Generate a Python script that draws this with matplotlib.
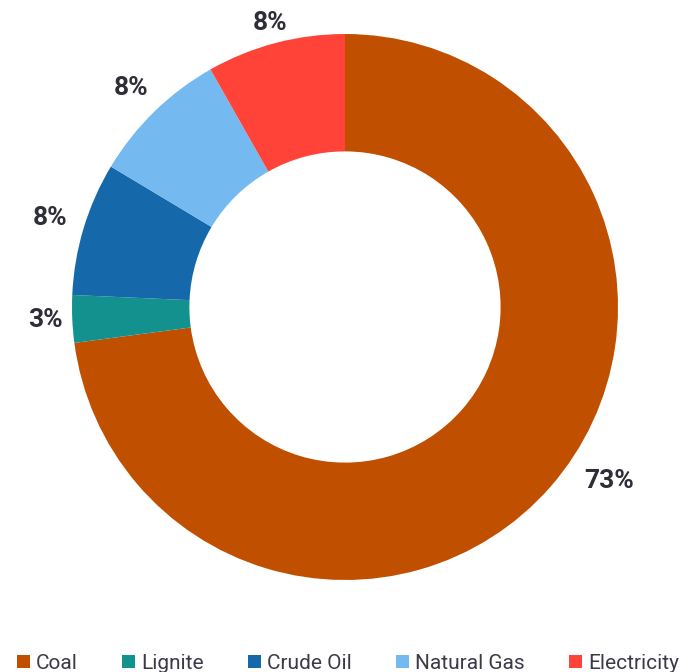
import matplotlib
matplotlib.use('Agg')
import matplotlib.pyplot as plt
from matplotlib.patches import Patch
import numpy as np

# share of energy use by source (%), clockwise from 12 o'clock
categories = ['Coal', 'Lignite', 'Crude Oil', 'Natural Gas', 'Electricity']
shares = [72.9, 2.8, 7.9, 8.2, 8.2]
colors = ['#C05000', '#12918F', '#1569AB', '#74B9EF', '#FF4338']

txt_col = '#2E2E38'
plt.rcParams['font.family'] = ['Roboto', 'DejaVu Sans']

fig = plt.figure(figsize=(6.91, 6.72), dpi=100)
# pie radius 1 -> 273 px, centre at (345, 307) px from top-left
ax = fig.add_axes([17.4/691, 37.4/672, 655.2/691, 655.2/672])

wedges, texts, autotexts = ax.pie(
    shares, colors=colors, startangle=90, counterclock=False,
    radius=1.0, wedgeprops=dict(width=0.43, linewidth=0),
    autopct='%.0f%%', pctdistance=1.11,
    textprops=dict(color=txt_col, fontsize=19, fontweight='bold'))

# label distances roughly as excel placed them
lab_r = [1.16, 1.10, 1.13, 1.12, 1.075]
for w, t, r in zip(wedges, autotexts, lab_r):
    a = np.deg2rad((w.theta1 + w.theta2) / 2)
    t.set_position((r*np.cos(a), r*np.sin(a)))
# big slice label sits off the middle
ang = np.deg2rad(-33.4)
autotexts[0].set_position((1.16*np.cos(ang), 1.16*np.sin(ang)))

ax.set_xlim(-1.2, 1.2)
ax.set_ylim(-1.2, 1.2)
ax.set_aspect('equal')
ax.axis('off')

handles = [Patch(facecolor=c, edgecolor='none') for c in colors]
leg = fig.legend(handles, categories, loc='lower left', bbox_to_anchor=(0.012, -0.014),
                 ncol=5, frameon=False, fontsize=15, handlelength=0.62, handleheight=0.62,
                 handletextpad=0.3, columnspacing=2.12, borderaxespad=0.)
for t in leg.get_texts():
    t.set_color('#3A3A48')

fig.savefig('out.png', dpi=100)
